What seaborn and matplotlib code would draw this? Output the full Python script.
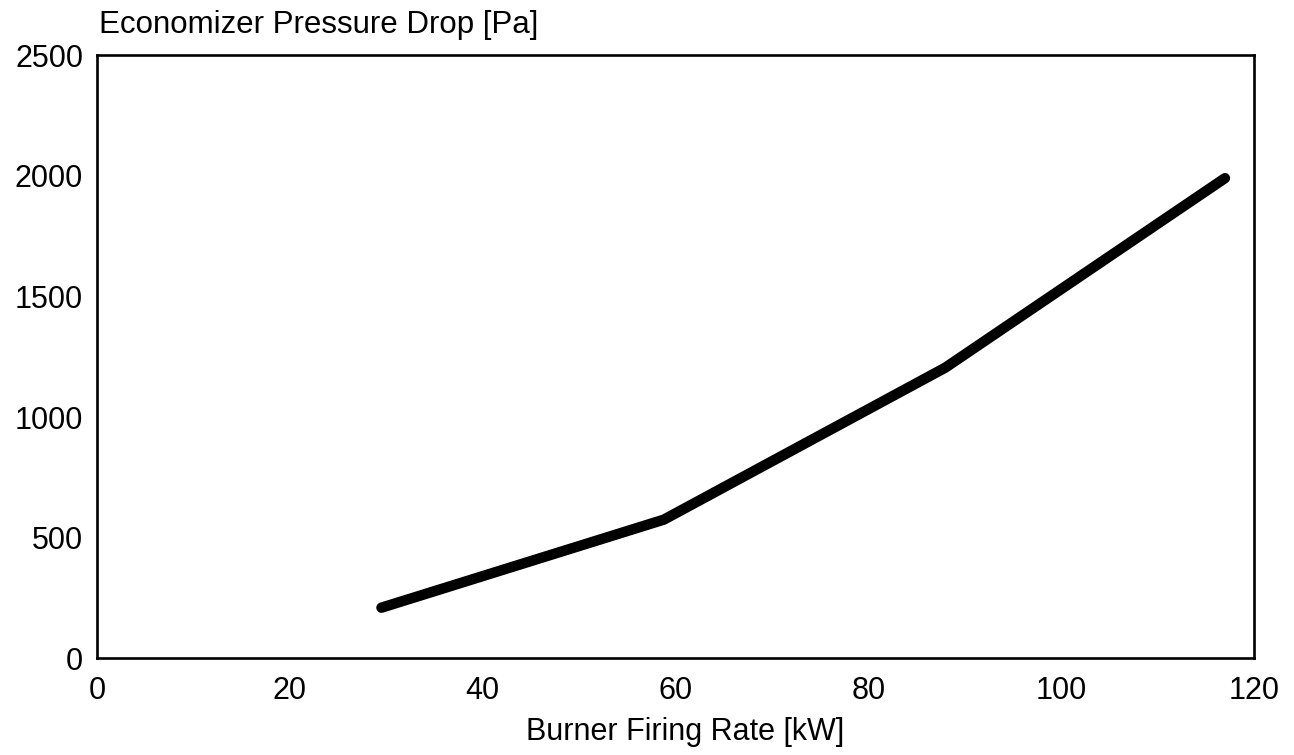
import pandas as pd
import matplotlib
matplotlib.use("Agg")
import matplotlib.pyplot as plt
import seaborn as sns

# data
firing_rate_kw = [29.5, 58.8, 88.0, 117.0]
pressure_drop_pa = [210, 575, 1205, 1990]
x_ticks = [0, 20, 40, 60, 80, 100, 120]
y_ticks = [0, 500, 1000, 1500, 2000, 2500]

df = pd.DataFrame({"rate": firing_rate_kw, "dp": pressure_drop_pa})

sns.set_theme(style="white")
plt.rcParams['font.family'] = ['Liberation Sans', 'DejaVu Sans']

fig = plt.figure(figsize=(12.94, 7.55), dpi=100)
ax = fig.add_axes([0.075, 0.128, 0.894, 0.799])

sns.lineplot(data=df, x="rate", y="dp", color="black", linewidth=7.5,
             solid_capstyle="round", solid_joinstyle="round", ax=ax)

ax.set_xlim(0, 120)
ax.set_ylim(0, 2500)
ax.set_xticks(x_ticks)
ax.set_yticks(y_ticks)
ax.tick_params(axis="both", length=0, labelsize=22, colors="black")
ax.tick_params(axis="x", pad=13)
ax.tick_params(axis="y", pad=10)
for s in ax.spines.values():
    s.set_color("black")
    s.set_linewidth(1.9)

ax.set_xlabel("Burner Firing Rate [kW]", fontsize=22, color="black")
ax.xaxis.set_label_coords(0.508, -0.097, transform=ax.transAxes)
ax.set_ylabel("")
ax.text(0.002, 1.036, "Economizer Pressure Drop [Pa]", transform=ax.transAxes,
        fontsize=22.5, color="black", ha="left", va="baseline")

fig.savefig("out.png", dpi=100)
